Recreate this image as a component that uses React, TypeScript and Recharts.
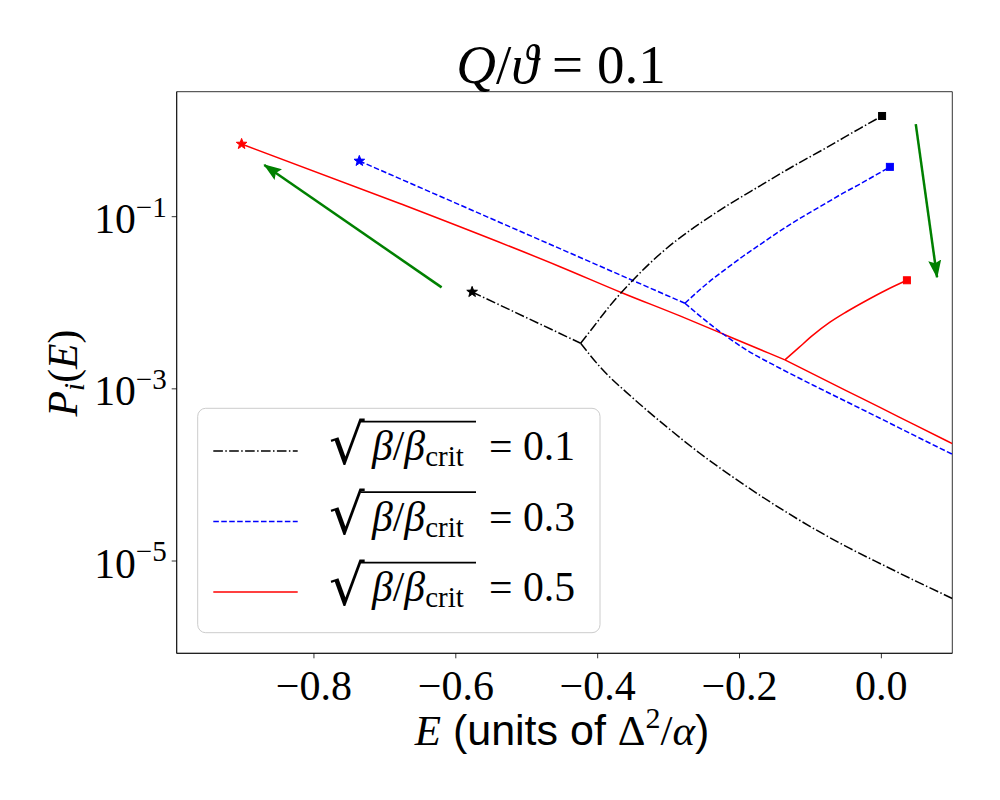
import React from 'react';
import { ComposedChart, Line, XAxis, YAxis, ReferenceArea } from 'recharts';

// ---- axis settings ----
const X_DOMAIN = [-0.9935, 0.1];
const Y_DOMAIN = [8.47e-7, 2.83];
const X_TICKS = [-0.8, -0.6, -0.4, -0.2, 0];
const Y_TICKS = [1e-5, 1e-3, 1e-1];

// ---- sqrt(beta/beta_crit) = 0.1 (black) ----
const blackStarE = [-0.577, -0.424];
const blackStarP = [0.01334, 0.003388];
const blackUpperE = [-0.424, -0.406, -0.383, -0.35, -0.312, -0.289, -0.265, -0.218, -0.171, -0.125, -0.077, -0.03, 0.001];
const blackUpperP = [0.003388, 0.005235, 0.00918, 0.0184, 0.03688, 0.05292, 0.07393, 0.1338, 0.2285, 0.3828, 0.6363, 1.063, 1.478];
const blackLowerE = [-0.424, -0.397, -0.35, -0.303, -0.256, -0.2, -0.139, -0.092, -0.045, 0.002, 0.05, 0.1];
const blackLowerP = [0.003388, 0.001811, 7.78e-4, 3.639e-4, 1.786e-4, 8.356e-5, 3.917e-5, 2.296e-5, 1.409e-5, 9.016e-6, 5.768e-6, 3.673e-6];

// ---- sqrt(beta/beta_crit) = 0.3 (blue) ----
const blueStarE = [-0.736, -0.277];
const blueStarP = [0.4436, 0.009867];
const blueUpperE = [-0.277, -0.256, -0.242, -0.218, -0.195, -0.171, -0.148, -0.125, -0.101, -0.077, -0.054, -0.03, -0.007, 0.012];
const blueUpperP = [0.009867, 0.01416, 0.01772, 0.02509, 0.03468, 0.04742, 0.06397, 0.08496, 0.1116, 0.1454, 0.1875, 0.2398, 0.3074, 0.3789];
const blueLowerE = [-0.277, -0.237, -0.19, -0.143, -0.096, -0.049, -0.002, 0.045, 0.1];
const blueLowerP = [0.009867, 0.005278, 0.00283, 0.001735, 0.001101, 7.085e-4, 4.555e-4, 2.914e-4, 1.739e-4];

// ---- sqrt(beta/beta_crit) = 0.5 (red) ----
const redStarE = [-0.902, -0.679, -0.453, -0.366, -0.284, -0.209, -0.136];
const redStarP = [0.6982, 0.1423, 0.02624, 0.01309, 0.007031, 0.003873, 0.002168];
const redUpperE = [-0.136, -0.116, -0.096, -0.073, -0.049, -0.021, 0.007, 0.036];
const redUpperP = [0.002168, 0.003034, 0.004227, 0.005904, 0.007861, 0.01063, 0.01408, 0.01825];
const redLowerE = [-0.136, -0.096, -0.049, -0.002, 0.045, 0.1];
const redLowerP = [0.002168, 0.001481, 9.48e-4, 6.081e-4, 3.89e-4, 2.309e-4];

// ---- green arrows ----
const arrowLeftE = [-0.62, -0.87];
const arrowLeftP = [0.0151, 0.399];
const arrowRightE = [0.0485, 0.0785];
const arrowRightP = [1.19, 0.0198];

const legendLabels = ['0.1', '0.3', '0.5'];

const zip = (E: number[], P: number[]) => E.map((e, i) => ({ E: e, P: P[i] }));

const SERIF = "'Liberation Serif', 'DejaVu Serif', serif";
const SANS = "'Liberation Sans', 'DejaVu Sans', sans-serif";

const BLACK = '#000000';
const BLUE = '#0000ff';
const RED = '#ff0000';
const GREEN = '#008000';

const DASHDOT = '9.6 2.4 1.5 2.4';
const DASHED = '5.55 2.4';

const series = [
  { color: BLACK, dash: DASHDOT, star: zip(blackStarE, blackStarP), upper: zip(blackUpperE, blackUpperP), lower: zip(blackLowerE, blackLowerP) },
  { color: BLUE, dash: DASHED, star: zip(blueStarE, blueStarP), upper: zip(blueUpperE, blueUpperP), lower: zip(blueLowerE, blueLowerP) },
  { color: RED, dash: undefined as string | undefined, star: zip(redStarE, redStarP), upper: zip(redUpperE, redUpperP), lower: zip(redLowerE, redLowerP) },
];

const starPath = (cx: number, cy: number, R = 5.6, r = 2.3) => {
  let d = '';
  for (let k = 0; k < 10; k++) {
    const rad = k % 2 === 0 ? R : r;
    const a = -Math.PI / 2 + (k * Math.PI) / 5;
    d += (k === 0 ? 'M' : 'L') + (cx + rad * Math.cos(a)).toFixed(2) + ',' + (cy + rad * Math.sin(a)).toFixed(2);
  }
  return d + 'Z';
};

const makeStarDot = (color: string) => (props: any) => {
  const { cx, cy, index } = props;
  if (index !== 0 || cx == null || cy == null) return <g key={`st${index}`} />;
  return <path key={`st${index}`} d={starPath(cx, cy)} fill={color} stroke={color} strokeWidth={1} />;
};

const makeSquareDot = (color: string, last: number) => (props: any) => {
  const { cx, cy, index } = props;
  if (index !== last || cx == null || cy == null) return <g key={`sq${index}`} />;
  return <rect key={`sq${index}`} x={cx - 3.5} y={cy - 3.5} width={7} height={7} fill={color} stroke={color} strokeWidth={1} />;
};

const XTick = (props: any) => {
  const { x, y, payload } = props;
  const v = payload.value as number;
  const label = Math.abs(v) < 1e-9 ? '0.0' : v.toFixed(1).replace('-', '\u2212');
  return (
    <text x={x} y={y + 40} textAnchor="middle" fontFamily={SERIF} fontSize={42} fill="#000">
      {label}
    </text>
  );
};

const YTick = (props: any) => {
  const { x, y, payload } = props;
  const exp = Math.round(Math.log10(payload.value));
  return (
    <text x={x - 3} y={y + 16.5} textAnchor="end" fontFamily={SERIF} fontSize={41.7} fill="#000">
      <tspan>10</tspan>
      <tspan fontSize={29} dy={-16.5}>{exp < 0 ? '\u2212' + Math.abs(exp) : String(exp)}</tspan>
    </text>
  );
};

const Overlay = () => {
  const rowBase = [460, 530.5, 601];
  return (
    <svg width={1000} height={800} style={{ position: 'absolute', left: 0, top: 0, pointerEvents: 'none' }}>
      <defs>
        <marker id="greenHead" viewBox="0 0 18 13" refX={17} refY={6.5} markerWidth={18} markerHeight={13} markerUnits="userSpaceOnUse" orient="auto">
          <path d="M0,0 L18,6.5 L0,13 L3,6.5 Z" fill={GREEN} />
        </marker>
      </defs>
      {/* title */}
      <text x={561} y={83.3} textAnchor="middle" fontFamily={SERIF} fontSize={55} fill="#000">
        <tspan fontStyle="italic">Q</tspan>
        <tspan>/</tspan>
        <tspan fontStyle="italic">ϑ</tspan>
        <tspan> = 0.1</tspan>
      </text>
      {/* x label */}
      <text x={562} y={745} textAnchor="middle" fontSize={43} fill="#000">
        <tspan fontFamily={SERIF} fontStyle="italic">E</tspan>
        <tspan fontFamily={SANS}> (units of </tspan>
        <tspan fontFamily={SERIF}>Δ</tspan>
        <tspan fontFamily={SERIF} fontSize={30} dy={-17}>2</tspan>
        <tspan fontFamily={SERIF} dy={17}>/</tspan>
        <tspan fontFamily={SERIF} fontStyle="italic">α</tspan>
        <tspan fontFamily={SANS}>)</tspan>
      </text>
      {/* y label */}
      <text transform="translate(76.7,373) rotate(-90)" textAnchor="middle" fontFamily={SERIF} fontSize={41.7} fill="#000">
        <tspan fontStyle="italic">P</tspan>
        <tspan fontStyle="italic" fontSize={29} dy={7}>i</tspan>
        <tspan dy={-7}>(</tspan>
        <tspan fontStyle="italic">E</tspan>
        <tspan>)</tspan>
      </text>
      {/* legend */}
      <rect x={197.7} y={408.3} width={402.3} height={224.4} rx={8} ry={8} fill="#ffffff" fillOpacity={0.8} stroke="#cccccc" strokeWidth={1} />
      {series.map((s, i) => {
        const b = rowBase[i];
        return (
          <g key={`leg${i}`}>
            <line x1={213.3} x2={297.7} y1={b - 9} y2={b - 9} stroke={s.color} strokeWidth={1.5} strokeDasharray={s.dash} />
            <text x={329} y={b + 3.5} fontFamily="'DejaVu Sans', sans-serif" fontSize={56} fill="#000">√</text>
            <line x1={361} x2={476} y1={b - 38.3} y2={b - 38.3} stroke="#000" strokeWidth={1.8} />
            <text x={372} y={b} fontFamily={SERIF} fontSize={41.7} fill="#000">
              <tspan fontStyle="italic">β</tspan>
              <tspan>/</tspan>
              <tspan fontStyle="italic">β</tspan>
              <tspan fontSize={29} dy={6}>crit</tspan>
              <tspan x={489} dy={-6}>= {legendLabels[i]}</tspan>
            </text>
          </g>
        );
      })}
    </svg>
  );
};

export default function App() {
  return (
    <div style={{ position: 'absolute', left: 0, top: 0, width: 1000, height: 800, background: '#ffffff' }}>
      <ComposedChart width={1000} height={800} margin={{ top: 91.7, right: 47.7, bottom: 0, left: 0 }}>
        <XAxis
          type="number"
          dataKey="E"
          domain={X_DOMAIN}
          allowDataOverflow
          ticks={X_TICKS}
          interval={0}
          height={146.7}
          tick={<XTick />}
          tickSize={5}
          tickLine={{ stroke: '#000', strokeWidth: 0.8 }}
          axisLine={{ stroke: '#000', strokeWidth: 0.8 }}
        />
        <YAxis
          type="number"
          dataKey="P"
          scale="log"
          domain={Y_DOMAIN}
          allowDataOverflow
          ticks={Y_TICKS}
          interval={0}
          width={176.7}
          tick={<YTick />}
          tickSize={5}
          tickLine={{ stroke: '#000', strokeWidth: 0.8 }}
          axisLine={{ stroke: '#000', strokeWidth: 0.8 }}
        />
        <ReferenceArea x1={X_DOMAIN[0]} x2={X_DOMAIN[1]} y1={Y_DOMAIN[0]} y2={Y_DOMAIN[1]} fill="none" fillOpacity={0} stroke="#000" strokeWidth={0.8} ifOverflow="visible" />
        {series.map((s, i) => (
          <Line
            key={`star${i}`}
            data={s.star}
            dataKey="P"
            type="monotone"
            stroke={s.color}
            strokeWidth={1.5}
            strokeDasharray={s.dash}
            dot={makeStarDot(s.color)}
            activeDot={false}
            isAnimationActive={false}
          />
        ))}
        {series.map((s, i) => (
          <Line
            key={`lower${i}`}
            data={s.lower}
            dataKey="P"
            type="monotone"
            stroke={s.color}
            strokeWidth={1.5}
            strokeDasharray={s.dash}
            dot={false}
            activeDot={false}
            isAnimationActive={false}
          />
        ))}
        {series.map((s, i) => (
          <Line
            key={`upper${i}`}
            data={s.upper}
            dataKey="P"
            type="monotone"
            stroke={s.color}
            strokeWidth={1.5}
            strokeDasharray={s.dash}
            dot={makeSquareDot(s.color, s.upper.length - 1)}
            activeDot={false}
            isAnimationActive={false}
          />
        ))}
        <Line data={zip(arrowLeftE, arrowLeftP)} dataKey="P" type="linear" stroke={GREEN} strokeWidth={2.5} markerEnd="url(#greenHead)" dot={false} activeDot={false} isAnimationActive={false} />
        <Line data={zip(arrowRightE, arrowRightP)} dataKey="P" type="linear" stroke={GREEN} strokeWidth={2.5} markerEnd="url(#greenHead)" dot={false} activeDot={false} isAnimationActive={false} />
      </ComposedChart>
      <Overlay />
    </div>
  );
}
